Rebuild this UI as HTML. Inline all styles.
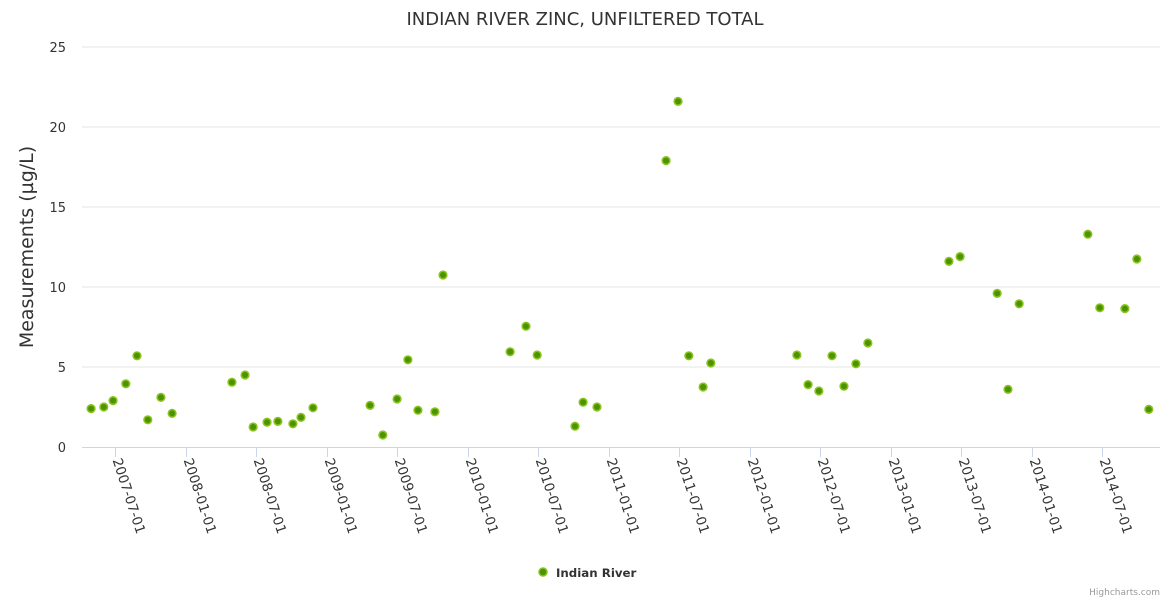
<!DOCTYPE html>
<html><head><meta charset="utf-8"><style>
body{margin:0;background:#fff;}
svg{display:block;font-family:"DejaVu Sans","Liberation Sans",sans-serif;}
</style></head><body>
<svg id="chart" width="1170" height="600">
<text x="585" y="25" text-anchor="middle" font-size="18" fill="#333">INDIAN RIVER ZINC, UNFILTERED TOTAL</text>
<text transform="translate(33,247) rotate(-90)" text-anchor="middle" font-size="19" fill="#333">Measurements (µg/L)</text>
<g id="grid"></g><g id="xaxis"></g><g id="pts"></g>
<g>
<circle cx="543" cy="572" r="4" fill="#4a9400" stroke="#8cc21e" stroke-width="1.5"/>
<text x="556" y="577" font-size="11.8" font-weight="bold" fill="#333">Indian River</text>
</g>
<text x="1160" y="595" text-anchor="end" font-size="9" fill="#999">Highcharts.com</text>
</svg>
<script>
const dates=["2007-04-30","2007-06-02","2007-06-26","2007-07-29","2007-08-27","2007-09-24","2007-10-28","2007-11-26","2008-04-29","2008-06-02","2008-06-23","2008-07-29","2008-08-26","2008-10-04","2008-10-25","2008-11-25","2009-04-22","2009-05-25","2009-07-01","2009-07-29","2009-08-24","2009-10-07","2009-10-28","2010-04-20","2010-05-31","2010-06-29","2010-10-05","2010-10-26","2010-12-01","2011-05-29","2011-06-29","2011-07-27","2011-09-02","2011-09-22","2012-05-02","2012-05-31","2012-06-28","2012-08-01","2012-09-01","2012-10-02","2012-11-02","2013-05-31","2013-06-29","2013-10-03","2013-10-31","2013-11-29","2014-05-26","2014-06-26","2014-08-30","2014-09-30","2014-10-31"];
const values=[2.4,2.5,2.9,3.95,5.7,1.7,3.1,2.1,4.05,4.5,1.25,1.55,1.6,1.45,1.85,2.45,2.6,0.75,3.0,5.45,2.3,2.2,10.75,5.95,7.55,5.75,1.3,2.8,2.5,17.9,21.6,5.7,3.75,5.25,5.75,3.9,3.5,5.7,3.8,5.2,6.5,11.6,11.9,9.6,3.6,8.95,13.3,8.7,8.65,11.75,2.35];
const yTicks=[0,5,10,15,20,25];
const xTicks=["2007-07-01","2008-01-01","2008-07-01","2009-01-01","2009-07-01","2010-01-01","2010-07-01","2011-01-01","2011-07-01","2012-01-01","2012-07-01","2013-01-01","2013-07-01","2014-01-01","2014-07-01"];
const NS="http://www.w3.org/2000/svg";
const t0=Date.UTC(2007,6,1);
function xs(d){const ms=Date.parse(d+"T00:00:00Z");return 115+(ms-t0)/86400000*0.3859;}
function ys(v){return 447-v*16;}
function mk(tag,attrs,parent){const e=document.createElementNS(NS,tag);for(const k in attrs)e.setAttribute(k,attrs[k]);parent.appendChild(e);return e;}
const grid=document.getElementById('grid');
yTicks.forEach(v=>{
  if(v>0){const l=mk('line',{x1:82,x2:1160,y1:ys(v),y2:ys(v),stroke:'#e6e6e6'},grid);
  
  }
  const t=mk('text',{x:66,y:ys(v)+5,'text-anchor':'end','font-size':13,fill:'#333'},grid);
  
  
  t.textContent=v;
});
const xa=document.getElementById('xaxis');
const ax=mk('line',{x1:82,x2:1160,y1:447.5,y2:447.5,stroke:'#ccd6eb'},xa);


xTicks.forEach(d=>{
  const x=Math.round(xs(d))+0.5;
  const tk=mk('line',{x1:x,x2:x,y1:447,y2:457,stroke:'#ccd6eb'},xa);
  
  
  const t=mk('text',{transform:`translate(${x-3},460) rotate(72)`,'font-size':13.5,fill:'#333'},xa);
  
  
  t.textContent=d;
});
const pts=document.getElementById('pts');
dates.forEach((d,i)=>{
  const c=mk('circle',{cx:xs(d),cy:ys(values[i]),r:3.8,fill:'#4a9400',stroke:'#8cc21e','stroke-width':1.6},pts);
  
  
});
</script>
</body></html>
